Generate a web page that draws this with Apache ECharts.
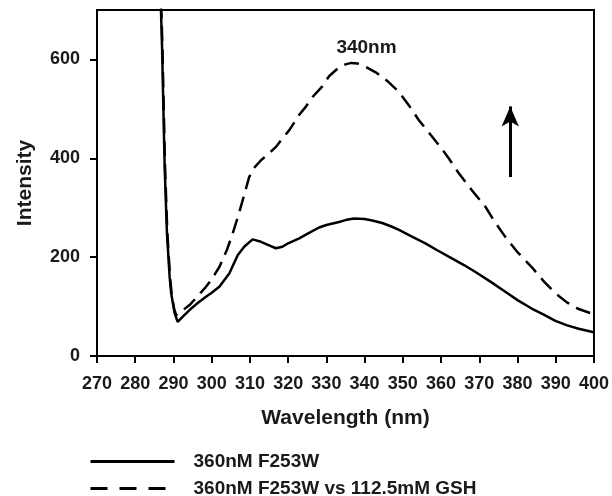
<!DOCTYPE html>
<html>
<head>
<meta charset="utf-8">
<script src="https://cdn.jsdelivr.net/npm/echarts@6/dist/echarts.min.js"></script>
<style>html,body{margin:0;padding:0;background:#fff}#c{width:612px;height:496px}</style>
</head>
<body>
<div id="c"></div>
<script>
// Tick labels
var xTicks = [270, 280, 290, 300, 310, 320, 330, 340, 350, 360, 370, 380, 390, 400];
var yTicks = [0, 200, 400, 600];

// Series 1: 360nM F253W (solid)
var solidWl = [286.5, 287.0, 287.7, 288.3, 289.0, 289.4, 290.3, 291.1, 292.5, 294.2, 296, 298.5, 300, 302, 304.6, 306.8, 308.5, 310.7, 312.9, 315, 316.8, 318.5, 320, 322.9, 325, 328.1, 330, 333.3, 335, 337.2, 340, 342, 344.6, 347, 349, 352, 355.9, 359, 362, 366, 369, 373, 376.8, 380, 383.7, 387, 389.9, 393, 396, 399.4, 400];
var solidVal = [760, 630, 382, 248, 160, 127, 87, 69, 80, 93, 105, 120, 128, 140, 167, 204, 221, 236, 231, 224, 218, 221, 228, 238, 247, 260, 265, 271, 275, 278, 277, 274, 269, 262, 255, 243, 228, 214, 201, 184, 170, 150, 130, 113, 96, 83, 71, 62, 55, 49, 48];

// Series 2: 360nM F253W vs 112.5mM GSH (dashed)
var dashWl = [286.6, 287.1, 287.8, 288.4, 289.1, 289.6, 290.2, 290.7, 292, 294.2, 296, 298.5, 300, 302, 304, 305.5, 307, 308.1, 309.8, 311, 312.9, 315, 316.8, 318.5, 320.3, 322.9, 324.6, 326.5, 329, 330.7, 333.3, 335, 336.5, 338.1, 340, 342.9, 346, 349, 351.5, 354.2, 357, 359.5, 362, 364.7, 368, 371.6, 374, 376.8, 380, 383.7, 387, 389.9, 393, 396, 399.4, 400];
var dashVal = [760, 630, 382, 250, 160, 120, 95, 83, 90, 103, 118, 140, 155, 180, 215, 248, 285, 315, 362, 380, 396, 410, 423, 440, 457, 488, 504, 525, 546, 566, 584, 590, 593, 592, 586, 574, 556, 534, 508, 477, 450, 426, 400, 369, 336, 302, 272, 241, 210, 180, 150, 127, 108, 95, 86, 84];

var seriesNames = ['360nM F253W', '360nM F253W vs 112.5mM GSH'];
var peakLabel = '340nm';
var peakPos = [340.5, 624];
var arrowFrom = [378.1, 362];
var arrowTo = [378.1, 505];

function pairs(xs, ys) { return xs.map(function (x, i) { return [x, ys[i]]; }); }

var FONT = "'Liberation Sans', Arial, sans-serif";
var TXT = '#1a1a1a';

function legendFor(name, dash, top) {
  return {
    orient: 'horizontal', left: 89, top: top, padding: 0,
    itemWidth: 84, itemHeight: 18,
    itemStyle: { opacity: 0 },
    textStyle: { fontFamily: FONT, fontWeight: 'bold', fontSize: 19, color: TXT, padding: [0, 0, 0, 14] },
    data: [{ name: name, lineStyle: { type: dash, width: 3, color: '#000' }, itemStyle: { opacity: 0 } }]
  };
}

var chart = echarts.init(document.getElementById('c'));
chart.setOption({
  animation: false,
  backgroundColor: '#fff',
  grid: { left: 97, right: 17, top: 10, bottom: 140, show: true, borderColor: '#000', borderWidth: 2, backgroundColor: 'transparent' },
  xAxis: {
    type: 'value', min: 270, max: 400, interval: 10,
    name: 'Wavelength (nm)', nameLocation: 'middle', nameGap: 52,
    nameTextStyle: { fontFamily: FONT, fontWeight: 'bold', fontSize: 21, color: TXT },
    axisLine: { show: true, lineStyle: { color: '#000', width: 2 } },
    axisTick: { show: true, inside: false, length: 7, lineStyle: { color: '#000', width: 2 } },
    axisLabel: { fontFamily: FONT, fontWeight: 'bold', fontSize: 18, color: TXT, margin: 19,
      customValues: xTicks },
    splitLine: { show: false }
  },
  yAxis: {
    type: 'value', min: 0, max: 700, interval: 200,
    name: 'Intensity', nameLocation: 'middle', nameGap: 61, nameRotate: 90,
    nameTextStyle: { fontFamily: FONT, fontWeight: 'bold', fontSize: 21, color: TXT },
    axisLine: { show: true, lineStyle: { color: '#000', width: 2 } },
    axisTick: { show: true, inside: false, length: 7, lineStyle: { color: '#000', width: 2 }, customValues: yTicks },
    axisLabel: { fontFamily: FONT, fontWeight: 'bold', fontSize: 18, color: TXT, margin: 17, customValues: yTicks },
    splitLine: { show: false }
  },
  legend: [
    legendFor(seriesNames[0], 'solid', 452),
    legendFor(seriesNames[1], [17, 12], 479)
  ],
  series: [
    {
      name: seriesNames[0], type: 'line', showSymbol: false, symbol: 'none', smooth: false,
      data: pairs(solidWl, solidVal),
      lineStyle: { color: '#000', width: 2.5, type: 'solid' },
      itemStyle: { color: '#000' },
      markPoint: {
        symbol: 'circle', symbolSize: 0, silent: true,
        label: { show: true, position: 'inside', formatter: peakLabel, fontFamily: FONT, fontWeight: 'bold', fontSize: 19, color: TXT },
        data: [{ coord: peakPos }]
      }
    },
    {
      name: seriesNames[1], type: 'line', showSymbol: false, symbol: 'none', smooth: false,
      data: pairs(dashWl, dashVal),
      lineStyle: { color: '#000', width: 2.5, type: [15, 8] },
      itemStyle: { color: '#000' },
      markLine: {
        silent: true, symbol: ['none', 'arrow'], symbolSize: [13, 20],
        lineStyle: { color: '#000', width: 3, type: 'solid' },
        label: { show: false },
        data: [[{ coord: arrowFrom }, { coord: arrowTo }]]
      }
    }
  ]
});
</script>
</body>
</html>
